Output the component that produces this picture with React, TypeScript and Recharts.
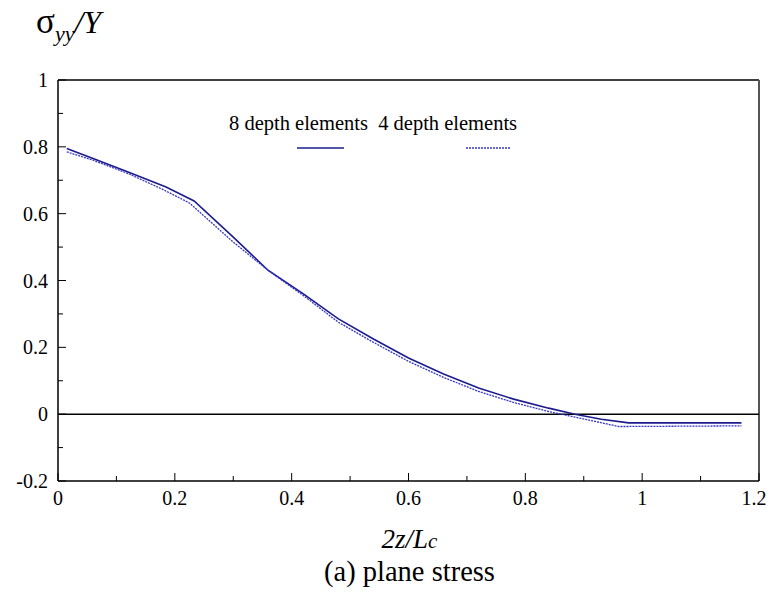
import { LineChart, Line, XAxis, YAxis, ReferenceLine } from 'recharts';

// sigma_yy / Y along 2z/Lc, plane stress
const X_TICKS = [0, 0.1, 0.2, 0.3, 0.4, 0.5, 0.6, 0.7, 0.8, 0.9, 1, 1.1, 1.2];
const Y_TICKS = [-0.2, -0.1, 0, 0.1, 0.2, 0.3, 0.4, 0.5, 0.6, 0.7, 0.8, 0.9, 1];

const EIGHT_X = [0.015, 0.06, 0.12, 0.185, 0.233, 0.3, 0.36, 0.42, 0.48, 0.54, 0.6, 0.66, 0.72, 0.78, 0.84, 0.885, 0.93, 0.977, 1.17];
const EIGHT_Y = [0.795, 0.765, 0.725, 0.68, 0.638, 0.53, 0.43, 0.36, 0.285, 0.225, 0.168, 0.12, 0.078, 0.045, 0.018, 0.0, -0.015, -0.026, -0.026];

const FOUR_X = [0.015, 0.06, 0.12, 0.18, 0.225, 0.3, 0.36, 0.42, 0.48, 0.54, 0.6, 0.66, 0.72, 0.78, 0.84, 0.875, 0.96, 1.17];
const FOUR_Y = [0.785, 0.76, 0.72, 0.672, 0.632, 0.515, 0.43, 0.355, 0.275, 0.215, 0.158, 0.11, 0.068, 0.035, 0.008, -0.005, -0.037, -0.035];

const eight = EIGHT_X.map((x, i) => ({ x, y: EIGHT_Y[i] }));
const four = FOUR_X.map((x, i) => ({ x, y: FOUR_Y[i] }));

const FONT = "'Liberation Serif', 'Times New Roman', serif";
const SOLID = '#1c1c8c';
const DOTTED = '#3535c8';

const isMajor = (v: number) => Math.round(Math.abs(v) * 10) % 2 === 0;

function XTick({ x, y, payload }: any) {
  const v = payload.value;
  const major = isMajor(v);
  return (
    <g>
      <line x1={x} x2={x} y1={y} y2={y - (major ? 8 : 5)} stroke="#000" />
      {major && (
        <text x={Math.min(x, 754)} y={y + 24} textAnchor="middle" fontSize={20} fontFamily={FONT} fill="#000">
          {String(v)}
        </text>
      )}
    </g>
  );
}

function YTick({ x, y, payload }: any) {
  const v = payload.value;
  const major = isMajor(v);
  return (
    <g>
      <line x1={x} x2={x + (major ? 8 : 5)} y1={y} y2={y} stroke="#000" />
      {major && (
        <text x={x - 10} y={y + 7} textAnchor="end" fontSize={20} fontFamily={FONT} fill="#000">
          {String(v)}
        </text>
      )}
    </g>
  );
}

export default function App() {
  return (
    <div style={{ position: 'absolute', left: 0, top: 0, width: 769, height: 593, background: '#fff', fontFamily: FONT }}>
      <LineChart width={769} height={593} margin={{ top: 80, right: 10, bottom: 0, left: 0 }}>
        <XAxis
          type="number"
          dataKey="x"
          domain={[0, 1.2]}
          ticks={X_TICKS}
          interval={0}
          tickSize={0}
          tickMargin={0}
          tick={<XTick />}
          height={112}
          axisLine={{ stroke: '#000', strokeWidth: 1.5 }}
          allowDataOverflow
        />
        <YAxis
          type="number"
          domain={[-0.2, 1]}
          ticks={Y_TICKS}
          interval={0}
          tickSize={0}
          tickMargin={0}
          tick={<YTick />}
          width={58}
          axisLine={{ stroke: '#000', strokeWidth: 1.5 }}
          allowDataOverflow
        />
        <ReferenceLine y={1} stroke="#000" strokeWidth={1.5} />
        <ReferenceLine x={1.2} stroke="#555" strokeWidth={2} />
        <ReferenceLine y={0} stroke="#000" strokeWidth={1.5} />
        <Line data={eight} dataKey="y" type="linear" stroke={SOLID} strokeWidth={1.6} dot={false} isAnimationActive={false} />
        <Line data={four} dataKey="y" type="linear" stroke={DOTTED} strokeWidth={1.3} strokeDasharray="2 1" dot={false} isAnimationActive={false} />
      </LineChart>

      {/* y-axis title */}
      <div style={{ position: 'absolute', left: 36, top: 4, fontSize: 32, lineHeight: 1, whiteSpace: 'nowrap' }}>
        <span style={{ fontSize: 35 }}>σ</span>
        <span style={{ fontStyle: 'italic', fontSize: 22, position: 'relative', top: 8 }}>yy</span>
        <span style={{ fontStyle: 'italic' }}>/Y</span>
      </div>

      {/* legend */}
      <div style={{ position: 'absolute', left: 229, top: 113, fontSize: 20.5, lineHeight: 1, whiteSpace: 'nowrap' }}>
        8 depth elements&nbsp; 4 depth elements
      </div>
      <svg style={{ position: 'absolute', left: 0, top: 0 }} width={769} height={200} pointerEvents="none">
        <line x1={297} x2={344} y1={148} y2={148} stroke={SOLID} strokeWidth={1.6} />
        <line x1={466} x2={511} y1={148} y2={148} stroke={DOTTED} strokeWidth={1.3} strokeDasharray="2 1" />
      </svg>

      {/* x-axis title and caption */}
      <div style={{ position: 'absolute', left: 0, width: 769, top: 526, textAlign: 'center', fontSize: 27, lineHeight: 1, paddingLeft: 50, boxSizing: 'border-box' }}>
        <span style={{ fontStyle: 'italic' }}>2z/L</span>
        <span style={{ fontStyle: 'italic', fontSize: 21 }}>c</span>
      </div>
      <div style={{ position: 'absolute', left: 0, width: 769, top: 558, textAlign: 'center', fontSize: 28.5, lineHeight: 1, paddingLeft: 50, boxSizing: 'border-box' }}>
        (a) plane stress
      </div>
    </div>
  );
}
